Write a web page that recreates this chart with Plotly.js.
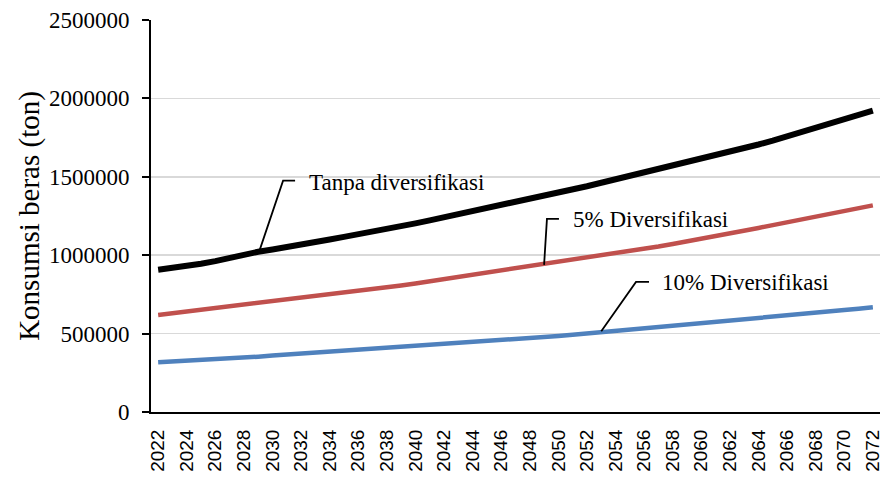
<!DOCTYPE html>
<html>
<head>
<meta charset="utf-8">
<script src="https://cdn.plot.ly/plotly-3.0.1.min.js"></script>
<style>html,body{margin:0;padding:0;background:#fff;}#chart{width:880px;height:478px;}</style>
</head>
<body>
<div id="chart"></div>
<script>
const years = [];
for (let y = 2022; y <= 2072; y++) years.push(y);

const tanpaDiversifikasi = [
  907000, 918000, 930000, 945000, 962000, 983000, 1003000, 1022000, 1036000, 1050000,
  1065000, 1082000, 1100000, 1117000, 1133000, 1148000, 1163000, 1183000, 1203000, 1222000,
  1241000, 1262000, 1284000, 1305000, 1322000, 1340000, 1360000, 1381000, 1400000, 1420000,
  1440000, 1462000, 1484000, 1505000, 1526000, 1548000, 1570000, 1590000, 1611000, 1634000,
  1657000, 1681000, 1706000, 1731000, 1757000, 1783000, 1810000, 1838000, 1866000, 1893000,
  1922000
];
const diversifikasi5 = [
  619000, 630000, 642000, 653000, 664000, 675000, 688000, 697000, 706000, 716000,
  726000, 736000, 747000, 758000, 770000, 781000, 794000, 807000, 820000, 834000,
  846000, 859000, 872000, 886000, 899000, 912000, 925000, 939000, 953000, 967000,
  981000, 996000, 1010000, 1024000, 1040000, 1056000, 1072000, 1088000, 1105000, 1122000,
  1139000, 1156000, 1174000, 1192000, 1210000, 1228000, 1246000, 1264000, 1282000, 1300000,
  1318000
];
const diversifikasi10 = [
  318000, 322000, 327000, 332000, 337000, 342000, 347000, 353000, 360000, 366000,
  372000, 378000, 384000, 390000, 396000, 402000, 407000, 412000, 418000, 424000,
  430000, 436000, 443000, 450000, 457000, 464000, 471000, 478000, 485000, 492000,
  500000, 508000, 516000, 524000, 532000, 540000, 548000, 556000, 564000, 572000,
  580000, 588000, 596000, 605000, 614000, 623000, 632000, 641000, 650000, 659000,
  668000
];
const tickYears = [];
for (let y = 2022; y <= 2072; y += 2) tickYears.push(y);
const yTicks = [0, 500000, 1000000, 1500000, 2000000, 2500000];
const labels = ["Tanpa diversifikasi", "5% Diversifikasi", "10% Diversifikasi"];

const serif = "Liberation Serif";
const sans = "Liberation Sans";

const traces = [
  {x: years, y: tanpaDiversifikasi, mode: "lines", name: labels[0], line: {color: "#000000", width: 6}},
  {x: years, y: diversifikasi5, mode: "lines", name: labels[1], line: {color: "#c0504d", width: 4.5}},
  {x: years, y: diversifikasi10, mode: "lines", name: labels[2], line: {color: "#4f81bd", width: 4.5}}
];

// leader lines: [start x, start y, elbow x, elbow y, end x]
const leaders = [
  [2029.06, 1021000, 2030.74, 1475000, 2031.58],
  [2049.0, 938000, 2049.2, 1232000, 2050.04],
  [2053.0, 515000, 2055.43, 830000, 2056.34]
];
const labelPos = [[2032.4, 1462000], [2050.85, 1226000], [2057.1, 824000]];

const shapes = leaders.map(l => ({
  type: "path", xref: "x", yref: "y",
  path: `M ${l[0]} ${l[1]} L ${l[2]} ${l[3]} L ${l[4]} ${l[3]}`,
  line: {color: "#000000", width: 1.8}
}));

const annotations = labels.map((t, i) => ({
  x: labelPos[i][0], y: labelPos[i][1], xref: "x", yref: "y",
  text: t, showarrow: false, xanchor: "left", yanchor: "middle",
  font: {family: serif, size: 23, color: "#000000"}
}));

const layout = {
  width: 880, height: 478,
  font: {family: serif, color: "#000"},
  margin: {l: 151, r: 0, t: 20, b: 66},
  paper_bgcolor: "#ffffff", plot_bgcolor: "#ffffff",
  showlegend: false,
  xaxis: {
    range: [2021.5, 2072.5], tickvals: tickYears, ticktext: tickYears.map(String),
    tickangle: -90, tickfont: {family: sans, size: 19, color: "#000"},
    ticklabeloverflow: "allow", ticklabelstandoff: 8,
    showgrid: false, zeroline: false, showline: true, linecolor: "#000", linewidth: 2,
    ticks: "", fixedrange: true
  },
  yaxis: {
    range: [0, 2500000], tickvals: yTicks, ticktext: yTicks.map(String),
    tickfont: {family: serif, size: 23, color: "#000"}, ticklabelstandoff: 8,
    showgrid: true, gridcolor: "#d9d9d9", gridwidth: 1.5, zeroline: false,
    showline: true, linecolor: "#000", linewidth: 2,
    ticks: "outside", ticklen: 7, tickwidth: 2, tickcolor: "#000",
    title: {text: "Konsumsi beras (ton)", font: {family: serif, size: 29, color: "#000"}, standoff: 1},
    fixedrange: true
  },
  shapes: shapes,
  annotations: annotations
};

Plotly.newPlot("chart", traces, layout, {displayModeBar: false, staticPlot: true});
</script>
</body>
</html>
